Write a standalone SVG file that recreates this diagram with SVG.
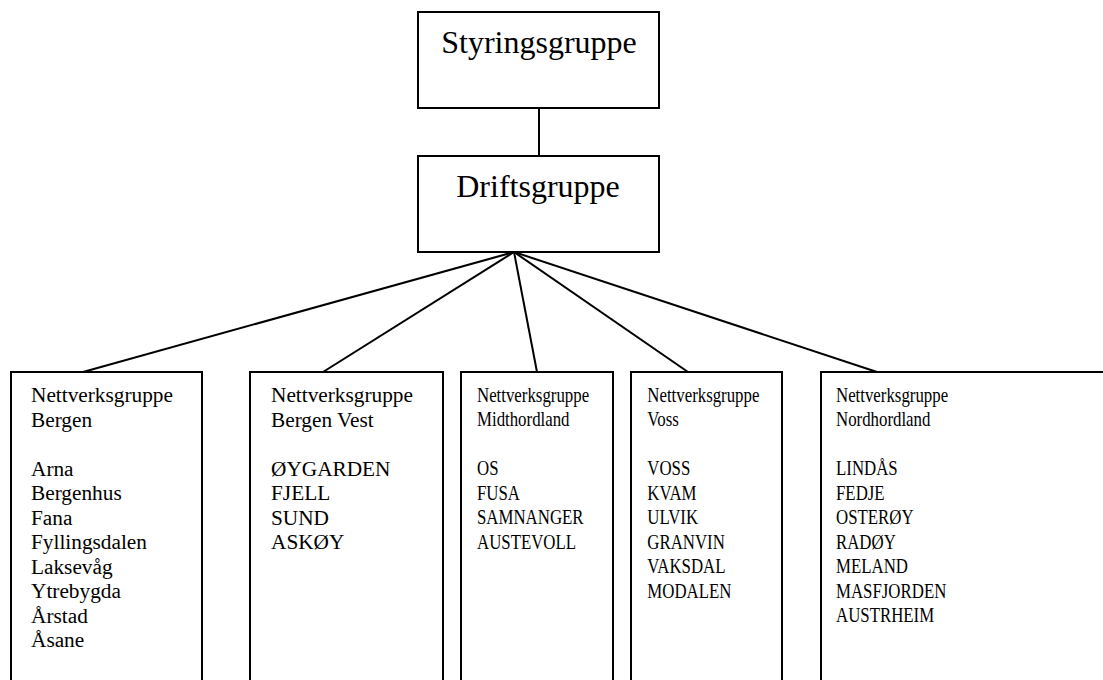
<svg xmlns="http://www.w3.org/2000/svg" width="1103" height="680" viewBox="0 0 1103 680">
<style>
.box{fill:#fff;stroke:#000;stroke-width:2}
.ln{stroke:#000;stroke-width:2;fill:none}
.big{font-family:"Liberation Serif","Times New Roman",serif;font-size:32px;text-anchor:middle;fill:#000}
.sm{font-family:"Liberation Serif","Times New Roman",serif;font-size:21.3px;fill:#000}
</style>
<rect x="0" y="0" width="1103" height="680" fill="#fff"/>
<g id="connectors">
<line class="ln" x1="539" y1="108" x2="539" y2="156"/>
<line class="ln" x1="514" y1="252" x2="83" y2="372"/>
<line class="ln" x1="514" y1="252" x2="323" y2="372"/>
<line class="ln" x1="514" y1="252" x2="537" y2="372"/>
<line class="ln" x1="514" y1="252" x2="688" y2="372"/>
<line class="ln" x1="514" y1="252" x2="877" y2="372"/>
</g>
<g id="styringsgruppe">
<rect class="box" x="418" y="12" width="241" height="96"/>
<text class="big" x="539" y="53">Styringsgruppe</text>
</g>
<g id="driftsgruppe">
<rect class="box" x="418" y="156" width="241" height="96"/>
<text class="big" x="538" y="197">Driftsgruppe</text>
</g>
<g id="bergen">
<rect class="box" x="11" y="372" width="191" height="320"/>
<text class="sm" x="31" y="402">
<tspan x="31" dy="0">Nettverksgruppe</tspan>
<tspan x="31" dy="24.5">Bergen</tspan>
<tspan x="31" dy="49">Arna</tspan>
<tspan x="31" dy="24.5">Bergenhus</tspan>
<tspan x="31" dy="24.5">Fana</tspan>
<tspan x="31" dy="24.5">Fyllingsdalen</tspan>
<tspan x="31" dy="24.5">Laksevåg</tspan>
<tspan x="31" dy="24.5">Ytrebygda</tspan>
<tspan x="31" dy="24.5">Årstad</tspan>
<tspan x="31" dy="24.5">Åsane</tspan>
</text>
</g>
<g id="bergen-vest">
<rect class="box" x="250" y="372" width="193" height="320"/>
<text class="sm" x="271" y="402">
<tspan x="271" dy="0">Nettverksgruppe</tspan>
<tspan x="271" dy="24.5">Bergen Vest</tspan>
<tspan x="271" dy="49">ØYGARDEN</tspan>
<tspan x="271" dy="24.5">FJELL</tspan>
<tspan x="271" dy="24.5">SUND</tspan>
<tspan x="271" dy="24.5">ASKØY</tspan>
</text>
</g>
<g id="midthordland">
<rect class="box" x="461" y="372" width="152" height="320"/>
<g transform="translate(477,0) scale(0.79,1)">
<text class="sm" x="0" y="402">
<tspan x="0" dy="0">Nettverksgruppe</tspan>
<tspan x="0" dy="24.5">Midthordland</tspan>
<tspan x="0" dy="49">OS</tspan>
<tspan x="0" dy="24.5">FUSA</tspan>
<tspan x="0" dy="24.5">SAMNANGER</tspan>
<tspan x="0" dy="24.5">AUSTEVOLL</tspan>
</text>
</g>
</g>
<g id="voss">
<rect class="box" x="631" y="372" width="151" height="320"/>
<g transform="translate(647.3,0) scale(0.79,1)">
<text class="sm" x="0" y="402">
<tspan x="0" dy="0">Nettverksgruppe</tspan>
<tspan x="0" dy="24.5">Voss</tspan>
<tspan x="0" dy="49">VOSS</tspan>
<tspan x="0" dy="24.5">KVAM</tspan>
<tspan x="0" dy="24.5">ULVIK</tspan>
<tspan x="0" dy="24.5">GRANVIN</tspan>
<tspan x="0" dy="24.5">VAKSDAL</tspan>
<tspan x="0" dy="24.5">MODALEN</tspan>
</text>
</g>
</g>
<g id="nordhordland">
<rect class="box" x="821" y="372" width="300" height="320"/>
<g transform="translate(836,0) scale(0.79,1)">
<text class="sm" x="0" y="402">
<tspan x="0" dy="0">Nettverksgruppe</tspan>
<tspan x="0" dy="24.5">Nordhordland</tspan>
<tspan x="0" dy="49">LINDÅS</tspan>
<tspan x="0" dy="24.5">FEDJE</tspan>
<tspan x="0" dy="24.5">OSTERØY</tspan>
<tspan x="0" dy="24.5">RADØY</tspan>
<tspan x="0" dy="24.5">MELAND</tspan>
<tspan x="0" dy="24.5">MASFJORDEN</tspan>
<tspan x="0" dy="24.5">AUSTRHEIM</tspan>
</text>
</g>
</g>
</svg>
